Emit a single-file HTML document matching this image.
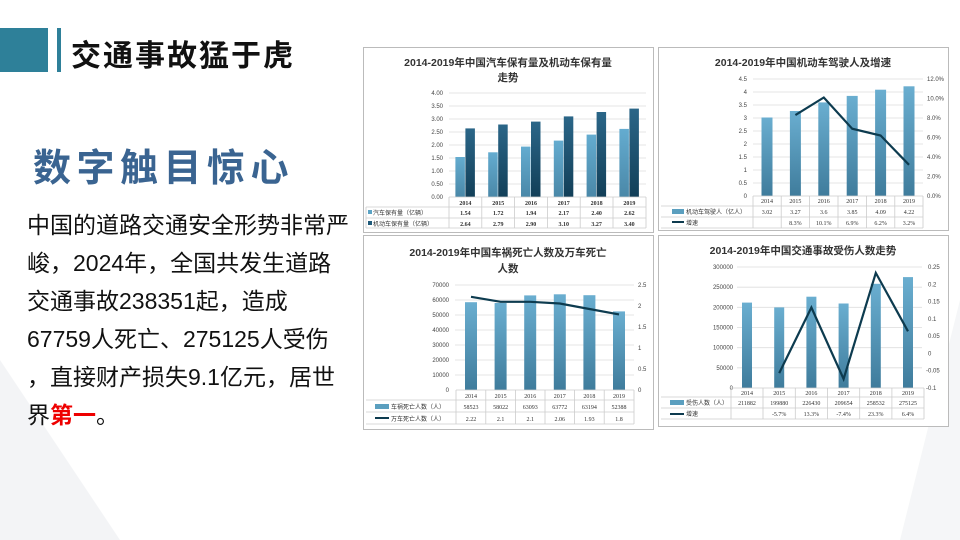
<!DOCTYPE html>
<html><head><meta charset="utf-8"><style>
html,body{margin:0;padding:0;background:#fff;width:960px;height:540px;overflow:hidden;font-family:"Liberation Sans","Noto Sans CJK SC",sans-serif}
.t{position:absolute;white-space:nowrap}
</style></head><body>
<svg width="960" height="540" style="position:absolute;left:0;top:0" font-family="Liberation Serif, Noto Serif CJK SC, serif">
<defs>
<linearGradient id="gl" x1="0" y1="0" x2="0" y2="1"><stop offset="0" stop-color="#64acd0"/><stop offset="1" stop-color="#4a88a8"/></linearGradient>
<linearGradient id="gd" x1="0" y1="0" x2="0" y2="1"><stop offset="0" stop-color="#2b6688"/><stop offset="1" stop-color="#123f58"/></linearGradient>
<linearGradient id="gb" x1="0" y1="0" x2="0" y2="1"><stop offset="0" stop-color="#6aaed0"/><stop offset="1" stop-color="#3f7c9c"/></linearGradient>
</defs>
<polygon points="0,360 0,540 120,540" fill="#f3f4f6"/>
<polygon points="960,300 960,540 900,540" fill="#f5f6f8"/>
<rect x="0" y="28" width="48" height="44" fill="#2e8099"/>
<rect x="57" y="28" width="4" height="44" fill="#2e8099"/>

<!-- Chart 1 -->
<rect x="363.5" y="47.5" width="290" height="185" fill="#fff" stroke="#bbb"/>
<g font-family="Liberation Sans, Noto Sans CJK SC, sans-serif" font-weight="bold" font-size="10.5" fill="#333" text-anchor="middle">
<text x="508" y="66">2014-2019年中国汽车保有量及机动车保有量</text><text x="508" y="81">走势</text></g>
<g stroke="#ddd" stroke-width="0.8">
<line x1="449" x2="646" y1="93" y2="93"/><line x1="449" x2="646" y1="106" y2="106"/><line x1="449" x2="646" y1="119" y2="119"/><line x1="449" x2="646" y1="132" y2="132"/><line x1="449" x2="646" y1="145" y2="145"/><line x1="449" x2="646" y1="158" y2="158"/><line x1="449" x2="646" y1="171" y2="171"/><line x1="449" x2="646" y1="184" y2="184"/></g>
<g font-size="6" fill="#444" text-anchor="end" font-family="Liberation Sans, sans-serif">
<text x="443" y="95">4.00</text><text x="443" y="108">3.50</text><text x="443" y="121">3.00</text><text x="443" y="134">2.50</text><text x="443" y="147">2.00</text><text x="443" y="160">1.50</text><text x="443" y="173">1.00</text><text x="443" y="186">0.50</text><text x="443" y="199">0.00</text></g>
<g fill="url(#gl)"><rect x="455.4" y="157" width="9.5" height="40"/><rect x="488.2" y="152.3" width="9.5" height="44.7"/><rect x="521" y="146.6" width="9.5" height="50.4"/><rect x="553.8" y="140.6" width="9.5" height="56.4"/><rect x="586.6" y="134.6" width="9.5" height="62.4"/><rect x="619.4" y="128.9" width="9.5" height="68.1"/></g>
<g fill="url(#gd)"><rect x="465.4" y="128.4" width="9.5" height="68.6"/><rect x="498.2" y="124.5" width="9.5" height="72.5"/><rect x="531" y="121.6" width="9.5" height="75.4"/><rect x="563.8" y="116.4" width="9.5" height="80.6"/><rect x="596.6" y="112" width="9.5" height="85"/><rect x="629.4" y="108.6" width="9.5" height="88.4"/></g>
<g stroke="#ccc" stroke-width="0.8"><line x1="449" x2="646" y1="197" y2="197"/><line x1="366" x2="646" y1="207" y2="207"/><line x1="366" x2="646" y1="218" y2="218"/><line x1="366" x2="646" y1="228" y2="228"/><line x1="366" x2="366" y1="207" y2="228"/>
<line x1="449" x2="449" y1="197" y2="228"/><line x1="481.8" x2="481.8" y1="197" y2="228"/><line x1="514.6" x2="514.6" y1="197" y2="228"/><line x1="547.4" x2="547.4" y1="197" y2="228"/><line x1="580.2" x2="580.2" y1="197" y2="228"/><line x1="613" x2="613" y1="197" y2="228"/><line x1="646" x2="646" y1="197" y2="228"/></g>
<g font-size="6" fill="#333" text-anchor="middle" font-weight="bold">
<text x="465.4" y="205">2014</text><text x="498.2" y="205">2015</text><text x="531" y="205">2016</text><text x="563.8" y="205">2017</text><text x="596.6" y="205">2018</text><text x="629.4" y="205">2019</text>
<text x="465.4" y="215">1.54</text><text x="498.2" y="215">1.72</text><text x="531" y="215">1.94</text><text x="563.8" y="215">2.17</text><text x="596.6" y="215">2.40</text><text x="629.4" y="215">2.62</text>
<text x="465.4" y="226">2.64</text><text x="498.2" y="226">2.79</text><text x="531" y="226">2.90</text><text x="563.8" y="226">3.10</text><text x="596.6" y="226">3.27</text><text x="629.4" y="226">3.40</text></g>
<rect x="368" y="210" width="4" height="4" fill="#5ba3c4"/><rect x="368" y="221" width="4" height="4" fill="#1f5a7a"/>
<g font-size="6" fill="#333" font-family="Liberation Sans, Noto Sans CJK SC, sans-serif"><text x="373" y="215">汽车保有量（亿辆）</text><text x="373" y="226">机动车保有量（亿辆）</text></g>

<!-- Chart 2 -->
<rect x="658.5" y="47.5" width="290" height="183" fill="#fff" stroke="#bbb"/>
<text x="803" y="66" font-family="Liberation Sans, Noto Sans CJK SC, sans-serif" font-weight="bold" font-size="10.5" fill="#333" text-anchor="middle">2014-2019年中国机动车驾驶人及增速</text>
<g stroke="#ddd" stroke-width="0.8"><line x1="753" x2="923" y1="79" y2="79"/><line x1="753" x2="923" y1="92" y2="92"/><line x1="753" x2="923" y1="105" y2="105"/><line x1="753" x2="923" y1="118" y2="118"/><line x1="753" x2="923" y1="131" y2="131"/><line x1="753" x2="923" y1="144" y2="144"/><line x1="753" x2="923" y1="157" y2="157"/><line x1="753" x2="923" y1="170" y2="170"/><line x1="753" x2="923" y1="183" y2="183"/></g>
<g font-size="6" fill="#444" text-anchor="end" font-family="Liberation Sans, sans-serif"><text x="747" y="81">4.5</text><text x="747" y="94">4</text><text x="747" y="107">3.5</text><text x="747" y="120">3</text><text x="747" y="133">2.5</text><text x="747" y="146">2</text><text x="747" y="159">1.5</text><text x="747" y="172">1</text><text x="747" y="185">0.5</text><text x="747" y="198">0</text></g>
<g font-size="6" fill="#444" font-family="Liberation Sans, sans-serif"><text x="927" y="81">12.0%</text><text x="927" y="100.5">10.0%</text><text x="927" y="120">8.0%</text><text x="927" y="139.5">6.0%</text><text x="927" y="159">4.0%</text><text x="927" y="178.5">2.0%</text><text x="927" y="198">0.0%</text></g>
<g fill="url(#gb)"><rect x="761.5" y="117.5" width="11" height="78.5"/><rect x="789.9" y="111" width="11" height="85"/><rect x="818.3" y="102.4" width="11" height="93.6"/><rect x="846.7" y="95.9" width="11" height="100.1"/><rect x="875.1" y="89.7" width="11" height="106.3"/><rect x="903.5" y="86.3" width="11" height="109.7"/></g>
<polyline points="795.4,115.1 823.8,97.5 852.2,128.7 880.6,135.5 909,164.8" fill="none" stroke="#0d3b4f" stroke-width="2.2"/>
<g stroke="#ccc" stroke-width="0.8"><line x1="753" x2="923" y1="196" y2="196"/><line x1="661" x2="923" y1="206" y2="206"/><line x1="661" x2="923" y1="217" y2="217"/><line x1="661" x2="923" y1="228" y2="228"/>
<line x1="753" x2="753" y1="196" y2="228"/><line x1="781.2" x2="781.2" y1="196" y2="228"/><line x1="809.6" x2="809.6" y1="196" y2="228"/><line x1="838" x2="838" y1="196" y2="228"/><line x1="866.4" x2="866.4" y1="196" y2="228"/><line x1="894.8" x2="894.8" y1="196" y2="228"/><line x1="923" x2="923" y1="196" y2="228"/></g>
<g font-size="6" fill="#333" text-anchor="middle"><text x="767" y="203">2014</text><text x="795.4" y="203">2015</text><text x="823.8" y="203">2016</text><text x="852.2" y="203">2017</text><text x="880.6" y="203">2018</text><text x="909" y="203">2019</text>
<text x="767" y="214">3.02</text><text x="795.4" y="214">3.27</text><text x="823.8" y="214">3.6</text><text x="852.2" y="214">3.85</text><text x="880.6" y="214">4.09</text><text x="909" y="214">4.22</text>
<text x="795.4" y="225">8.3%</text><text x="823.8" y="225">10.1%</text><text x="852.2" y="225">6.9%</text><text x="880.6" y="225">6.2%</text><text x="909" y="225">3.2%</text></g>
<rect x="672" y="209" width="12" height="5" fill="#5b9fbf"/><rect x="672" y="221" width="12" height="2" fill="#0d3b4f"/>
<g font-size="6" fill="#333" font-family="Liberation Sans, Noto Sans CJK SC, sans-serif"><text x="686" y="214">机动车驾驶人（亿人）</text><text x="686" y="225">增速</text></g>

<!-- Chart 3 -->
<rect x="363.5" y="235.5" width="290" height="194" fill="#fff" stroke="#bbb"/>
<g font-family="Liberation Sans, Noto Sans CJK SC, sans-serif" font-weight="bold" font-size="10.5" fill="#333" text-anchor="middle"><text x="508" y="256">2014-2019年中国车祸死亡人数及万车死亡</text><text x="508" y="272">人数</text></g>
<g stroke="#ddd" stroke-width="0.8"><line x1="455" x2="634" y1="285" y2="285"/><line x1="455" x2="634" y1="300" y2="300"/><line x1="455" x2="634" y1="315" y2="315"/><line x1="455" x2="634" y1="330" y2="330"/><line x1="455" x2="634" y1="345" y2="345"/><line x1="455" x2="634" y1="360" y2="360"/><line x1="455" x2="634" y1="375" y2="375"/></g>
<g font-size="6" fill="#444" text-anchor="end" font-family="Liberation Sans, sans-serif"><text x="449" y="287">70000</text><text x="449" y="302">60000</text><text x="449" y="317">50000</text><text x="449" y="332">40000</text><text x="449" y="347">30000</text><text x="449" y="362">20000</text><text x="449" y="377">10000</text><text x="449" y="392">0</text></g>
<g font-size="6" fill="#444" font-family="Liberation Sans, sans-serif"><text x="638" y="287">2.5</text><text x="638" y="308">2</text><text x="638" y="329">1.5</text><text x="638" y="350">1</text><text x="638" y="371">0.5</text><text x="638" y="392">0</text></g>
<g fill="url(#gb)"><rect x="465" y="302.2" width="12" height="87.8"/><rect x="494.6" y="303" width="12" height="87"/><rect x="524.2" y="295.4" width="12" height="94.6"/><rect x="553.8" y="294.3" width="12" height="95.7"/><rect x="583.4" y="295.2" width="12" height="94.8"/><rect x="613" y="311.4" width="12" height="78.6"/></g>
<polyline points="471,296.8 500.6,301.8 530.2,301.8 559.8,303.5 589.4,309 619,314.4" fill="none" stroke="#0d3b4f" stroke-width="2.2"/>
<g stroke="#ccc" stroke-width="0.8"><line x1="456" x2="634" y1="390" y2="390"/><line x1="366" x2="634" y1="400" y2="400"/><line x1="366" x2="634" y1="412" y2="412"/><line x1="366" x2="634" y1="424" y2="424"/>
<line x1="456" x2="456" y1="390" y2="424"/><line x1="485.8" x2="485.8" y1="390" y2="424"/><line x1="515.4" x2="515.4" y1="390" y2="424"/><line x1="545" x2="545" y1="390" y2="424"/><line x1="574.6" x2="574.6" y1="390" y2="424"/><line x1="604.2" x2="604.2" y1="390" y2="424"/><line x1="634" x2="634" y1="390" y2="424"/></g>
<g font-size="6" fill="#333" text-anchor="middle"><text x="471" y="398">2014</text><text x="500.6" y="398">2015</text><text x="530.2" y="398">2016</text><text x="559.8" y="398">2017</text><text x="589.4" y="398">2018</text><text x="619" y="398">2019</text>
<text x="471" y="409">58523</text><text x="500.6" y="409">58022</text><text x="530.2" y="409">63093</text><text x="559.8" y="409">63772</text><text x="589.4" y="409">63194</text><text x="619" y="409">52388</text>
<text x="471" y="421">2.22</text><text x="500.6" y="421">2.1</text><text x="530.2" y="421">2.1</text><text x="559.8" y="421">2.06</text><text x="589.4" y="421">1.93</text><text x="619" y="421">1.8</text></g>
<rect x="375" y="404" width="14" height="5" fill="#5b9fbf"/><rect x="375" y="417" width="14" height="2" fill="#0d3b4f"/>
<g font-size="6" fill="#333" font-family="Liberation Sans, Noto Sans CJK SC, sans-serif"><text x="391" y="409">车祸死亡人数（人）</text><text x="391" y="421">万车死亡人数（人）</text></g>

<!-- Chart 4 -->
<rect x="658.5" y="235.5" width="290" height="191" fill="#fff" stroke="#bbb"/>
<text x="803" y="254" font-family="Liberation Sans, Noto Sans CJK SC, sans-serif" font-weight="bold" font-size="10.5" fill="#333" text-anchor="middle">2014-2019年中国交通事故受伤人数走势</text>
<g stroke="#ddd" stroke-width="0.8"><line x1="737" x2="922" y1="267" y2="267"/><line x1="737" x2="922" y1="287.2" y2="287.2"/><line x1="737" x2="922" y1="307.3" y2="307.3"/><line x1="737" x2="922" y1="327.5" y2="327.5"/><line x1="737" x2="922" y1="347.7" y2="347.7"/><line x1="737" x2="922" y1="367.8" y2="367.8"/></g>
<g font-size="6" fill="#444" text-anchor="end" font-family="Liberation Sans, sans-serif"><text x="733" y="269">300000</text><text x="733" y="289.2">250000</text><text x="733" y="309.3">200000</text><text x="733" y="329.5">150000</text><text x="733" y="349.7">100000</text><text x="733" y="369.8">50000</text><text x="733" y="390">0</text></g>
<g font-size="6" fill="#444" font-family="Liberation Sans, sans-serif"><text x="928" y="269">0.25</text><text x="928" y="286.3">0.2</text><text x="928" y="303.6">0.15</text><text x="928" y="320.9">0.1</text><text x="928" y="338.1">0.05</text><text x="928" y="355.4">0</text><text x="926" y="372.7">-0.05</text><text x="926" y="390">-0.1</text></g>
<g fill="url(#gb)"><rect x="742" y="302.6" width="10" height="85.4"/><rect x="774.2" y="307.4" width="10" height="80.6"/><rect x="806.4" y="296.7" width="10" height="91.3"/><rect x="838.6" y="303.5" width="10" height="84.5"/><rect x="870.8" y="283.8" width="10" height="104.2"/><rect x="903" y="277.1" width="10" height="110.9"/></g>
<polyline points="779.2,373.1 811.4,307.5 843.6,379 875.8,272.9 908,331.3" fill="none" stroke="#0d3b4f" stroke-width="2.2"/>
<g stroke="#ccc" stroke-width="0.8"><line x1="731" x2="924" y1="388" y2="388"/><line x1="661" x2="924" y1="397" y2="397"/><line x1="661" x2="924" y1="408" y2="408"/><line x1="661" x2="924" y1="419" y2="419"/>
<line x1="731" x2="731" y1="388" y2="419"/><line x1="763" x2="763" y1="388" y2="419"/><line x1="795.3" x2="795.3" y1="388" y2="419"/><line x1="827.5" x2="827.5" y1="388" y2="419"/><line x1="859.7" x2="859.7" y1="388" y2="419"/><line x1="891.9" x2="891.9" y1="388" y2="419"/><line x1="924" x2="924" y1="388" y2="419"/></g>
<g font-size="6" fill="#333" text-anchor="middle"><text x="747" y="395">2014</text><text x="779.2" y="395">2015</text><text x="811.4" y="395">2016</text><text x="843.6" y="395">2017</text><text x="875.8" y="395">2018</text><text x="908" y="395">2019</text>
<text x="747" y="405">211882</text><text x="779.2" y="405">199880</text><text x="811.4" y="405">226430</text><text x="843.6" y="405">209654</text><text x="875.8" y="405">258532</text><text x="908" y="405">275125</text>
<text x="779.2" y="416">-5.7%</text><text x="811.4" y="416">13.3%</text><text x="843.6" y="416">-7.4%</text><text x="875.8" y="416">23.3%</text><text x="908" y="416">6.4%</text></g>
<rect x="670" y="400" width="14" height="5" fill="#5b9fbf"/><rect x="670" y="413" width="14" height="2" fill="#0d3b4f"/>
<g font-size="6" fill="#333" font-family="Liberation Sans, Noto Sans CJK SC, sans-serif"><text x="686" y="405">受伤人数（人）</text><text x="686" y="416">增速</text></g>
</svg>

<div class="t" style="left:71px;top:31px;font-size:30px;font-weight:bold;color:#111;letter-spacing:2px;font-family:'Liberation Sans','Noto Sans CJK SC',sans-serif">交通事故猛于虎</div>
<div class="t" style="left:33px;top:137px;font-size:38px;font-weight:bold;color:#3a6491;letter-spacing:5.5px;font-family:'Liberation Sans','Noto Sans CJK SC',sans-serif">数字触目惊心</div>
<div style="position:absolute;left:27px;top:206px;white-space:nowrap;font-size:23px;line-height:38px;color:#111;font-family:'Liberation Sans','Noto Sans CJK SC',sans-serif">中国的道路交通安全形势非常严<br>峻，2024年，全国共发生道路<br>交通事故238351起，造成<br>67759人死亡、275125人受伤<br>，直接财产损失9.1亿元，居世<br>界<span style="color:#e00;font-weight:bold">第一</span>。</div>
</body></html>
